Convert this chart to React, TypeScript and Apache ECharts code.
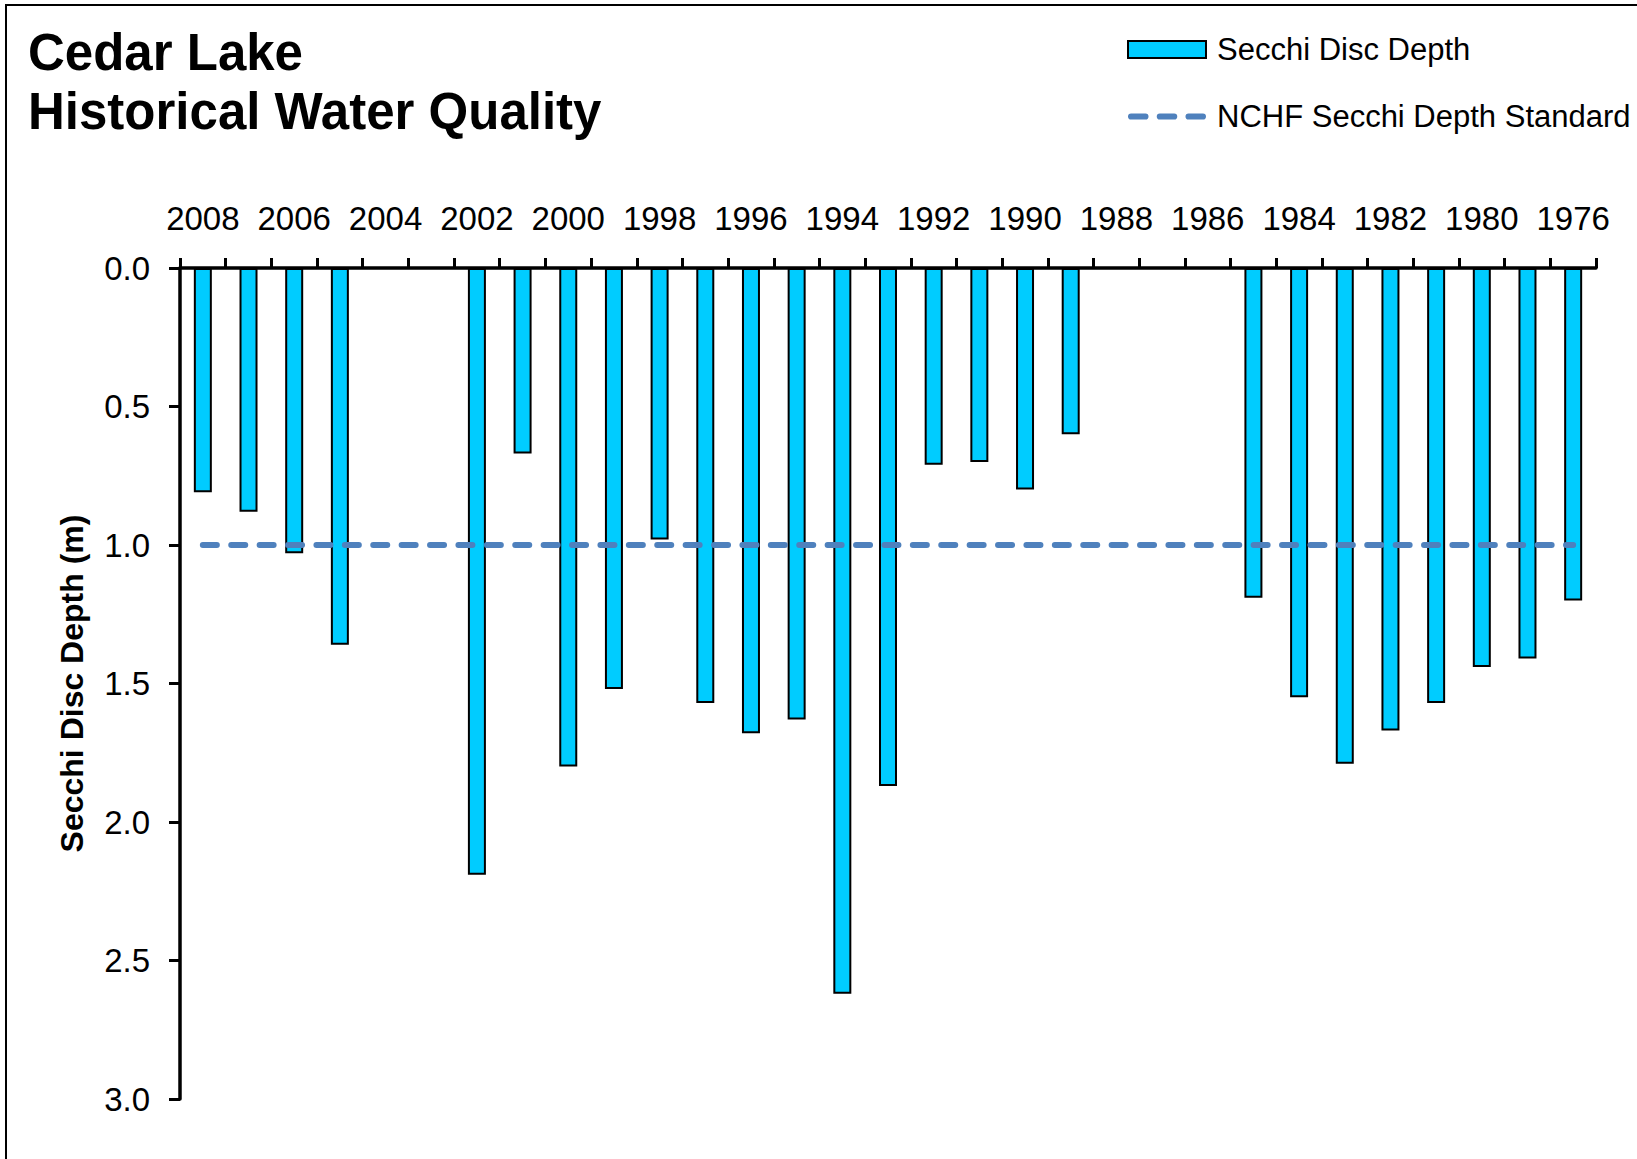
import React, { useEffect, useRef } from "react";
import * as echarts from "echarts";

const years = [
  "2008", "2007", "2006", "2005", "2004", "2003", "2002", "2001", "2000", "1999",
  "1998", "1997", "1996", "1995", "1994", "1993", "1992", "1991", "1990", "1989",
  "1988", "1987", "1986", "1985", "1984", "1983", "1982", "1981", "1980", "1977",
  "1976",
];

const secchiDepth = [
  0.81, 0.88, 1.03, 1.36, null, null, 2.19, 0.67, 1.8, 1.52,
  0.98, 1.57, 1.68, 1.63, 2.62, 1.87, 0.71, 0.7, 0.8, 0.6,
  null, null, null, 1.19, 1.55, 1.79, 1.67, 1.57, 1.44, 1.41,
  1.2,
];

const standardDepth = [
  1.0, 1.0, 1.0, 1.0, 1.0, 1.0, 1.0, 1.0, 1.0, 1.0,
  1.0, 1.0, 1.0, 1.0, 1.0, 1.0, 1.0, 1.0, 1.0, 1.0,
  1.0, 1.0, 1.0, 1.0, 1.0, 1.0, 1.0, 1.0, 1.0, 1.0,
  1.0,
];

const titleLines = ["Cedar Lake", "Historical Water Quality"];
const seriesNames = ["Secchi Disc Depth", "NCHF Secchi Depth Standard"];
const yAxisName = "Secchi Disc Depth (m)";

const FONT = "'Liberation Sans', Arial, Helvetica, sans-serif";

const dashIcon =
  "path://M3,0h14a3,3 0 0 1 0,6h-14a3,3 0 0 1 0,-6z" +
  "M31,0h14a3,3 0 0 1 0,6h-14a3,3 0 0 1 0,-6z" +
  "M59,0h14a3,3 0 0 1 0,6h-14a3,3 0 0 1 0,-6z";

export default function App() {
  const ref = useRef<HTMLDivElement>(null);

  useEffect(() => {
    document.body.style.margin = "0";
    if (!ref.current) return;
    const chart = echarts.init(ref.current, null, { renderer: "svg" });
    chart.setOption({
      animation: false,
      backgroundColor: "#ffffff",
      textStyle: { fontFamily: FONT },
      title: {
        text: titleLines.join("\n"),
        left: 28,
        top: 23,
        padding: 0,
        textStyle: {
          fontFamily: FONT,
          fontSize: 51,
          fontWeight: "bold",
          color: "#000",
          lineHeight: 59,
        },
      },
      graphic: [
        {
          type: "rect",
          shape: { x: 6, y: 5, width: 1700, height: 1300 },
          style: { fill: "none", stroke: "#000", lineWidth: 2 },
          silent: true,
        },
      ],
      legend: {
        orient: "vertical",
        left: 1127,
        top: 34,
        padding: 0,
        itemWidth: 78,
        itemHeight: 17,
        itemGap: 36,
        textStyle: {
          fontFamily: FONT,
          fontSize: 31,
          color: "#000",
          padding: [0, 0, 0, 6],
        },
        data: [
          {
            name: seriesNames[0],
            icon: "rect",
            itemStyle: { color: "#00CCFF", borderColor: "#000", borderWidth: 2 },
          },
          {
            name: seriesNames[1],
            icon: dashIcon,
            itemStyle: { color: "#4F81BD", borderWidth: 0 },
          },
        ],
      },
      grid: { left: 180, top: 268, width: 1416, height: 831, containLabel: false },
      xAxis: {
        type: "category",
        position: "top",
        data: years,
        boundaryGap: true,
        axisLine: { show: true, lineStyle: { color: "#000", width: 3.5 } },
        axisTick: {
          show: true,
          interval: 0,
          alignWithLabel: false,
          inside: false,
          length: 10,
          lineStyle: { color: "#000", width: 3 },
        },
        axisLabel: {
          interval: 1,
          margin: 33,
          fontSize: 33,
          color: "#000",
          fontFamily: FONT,
        },
        splitLine: { show: false },
      },
      yAxis: {
        type: "value",
        inverse: true,
        min: 0,
        max: 3,
        interval: 0.5,
        name: yAxisName,
        nameLocation: "middle",
        nameRotate: 90,
        nameGap: 92,
        nameTextStyle: {
          fontFamily: FONT,
          fontSize: 32,
          fontWeight: "bold",
          color: "#000",
        },
        axisLine: { show: true, lineStyle: { color: "#000", width: 3.5 } },
        axisTick: {
          show: true,
          inside: false,
          length: 11,
          lineStyle: { color: "#000", width: 3 },
        },
        axisLabel: {
          margin: 30,
          fontSize: 33,
          color: "#000",
          fontFamily: FONT,
          formatter: (v: number) => v.toFixed(1),
        },
        splitLine: { show: false },
      },
      series: [
        {
          name: seriesNames[0],
          type: "bar",
          data: secchiDepth,
          barWidth: 18,
          itemStyle: { color: "#00CCFF", borderColor: "#000", borderWidth: 2 },
          z: 2,
        },
        {
          name: seriesNames[1],
          type: "line",
          data: standardDepth,
          symbol: "none",
          showSymbol: false,
          lineStyle: {
            color: "#4F81BD",
            width: 6,
            type: [14, 14.4],
            cap: "round",
          },
          itemStyle: { color: "#4F81BD" },
          z: 3,
        },
      ],
    });
    return () => chart.dispose();
  }, []);

  return <div ref={ref} style={{ width: 1637, height: 1159 }} />;
}
